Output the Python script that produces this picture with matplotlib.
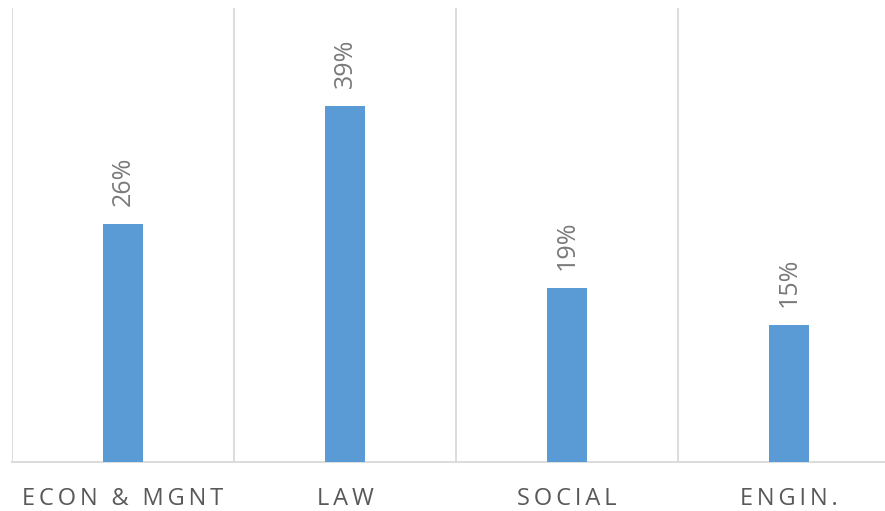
import matplotlib
matplotlib.use("Agg")
import matplotlib.pyplot as plt

categories = ["ECON & MGNT", "LAW", "SOCIAL", "ENGIN."]
shares = [26, 39, 19, 15]

bar_color = "#5b9bd5"
text_color = "#595959"
label_color = "#7a7a7a"
grid_color = "#d9d9d9"


def spaced(s):
    # Excel-style letter spacing on axis labels
    return "\u2009".join(s)


fig = plt.figure(figsize=(8.85, 5.11), dpi=100)
# the plot area runs a little past the right edge of the image
ax = fig.add_axes([12 / 885, (511 - 462) / 511, 888 / 885, 454 / 511])

x = range(len(categories))
ax.bar(x, shares, width=0.18, color=bar_color, zorder=3)

for xi, v in zip(x, shares):
    ax.annotate(f"{v}%", (xi, v), xytext=(0, 13), textcoords="offset points",
                rotation=90, ha="center", va="bottom", fontsize=18,
                color=label_color, family=["Open Sans", "DejaVu Sans"])

ax.set_xlim(-0.5, len(categories) - 0.5)
ax.set_ylim(0, 49.7)

# vertical separators between categories
for b in [i - 0.5 for i in range(len(categories) + 1)]:
    ax.axvline(b, color=grid_color, lw=1.3, zorder=1)

ax.set_yticks([])
ax.set_xticks(list(x))
ax.set_xticklabels([spaced(c) for c in categories], fontsize=17,
                   color=text_color, family=["Open Sans", "DejaVu Sans"])
ax.tick_params(axis="x", length=0, pad=18)

for side in ["top", "left", "right"]:
    ax.spines[side].set_visible(False)
ax.spines["bottom"].set_color(grid_color)
ax.spines["bottom"].set_linewidth(1.3)

fig.savefig("out.png", dpi=100)
